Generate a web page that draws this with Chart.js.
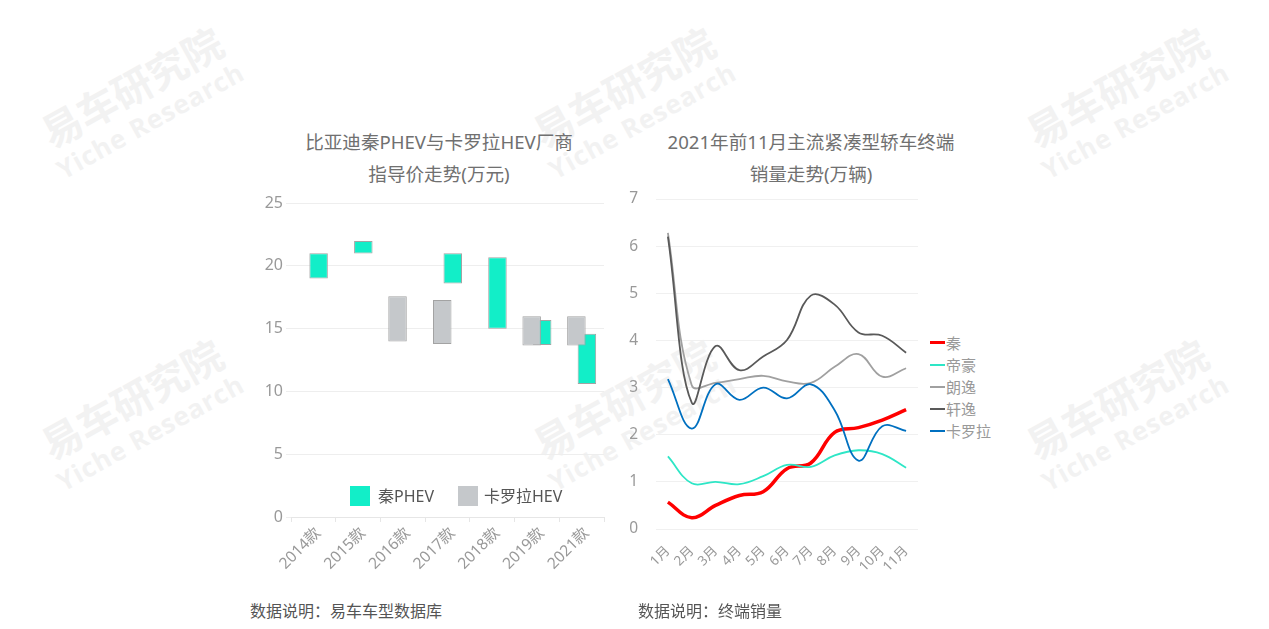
<!DOCTYPE html>
<html>
<head>
<meta charset="utf-8">
<script src="https://cdn.jsdelivr.net/npm/chart.js@4/dist/chart.umd.min.js"></script>
<style>
  html, body { margin: 0; padding: 0; background: #fff; }
  body { width: 1269px; height: 629px; position: relative; overflow: hidden;
         font-family: 'Noto Sans', 'Noto Sans CJK SC', sans-serif; }
  .wm { position: absolute; width: 300px; margin-left: -150px; margin-top: -45px; text-align: center;
        color: #f2f2f2; font-weight: bold; transform: rotate(-29deg); white-space: nowrap; }
  .wm .cn { font-size: 40px; line-height: 42px; font-family: 'Noto Sans CJK SC', sans-serif; }
  .wm .en { font-size: 26px; line-height: 36px; letter-spacing: 1px; font-family: 'Open Sans', 'Noto Sans', sans-serif; }
  .title { position: absolute; width: 420px; text-align: center; font-size: 18.6px; line-height: 32px; color: #707070; }
  .note { position: absolute; font-size: 16px; line-height: 20px; color: #555; }
  canvas { position: absolute; }
  .lg { position: absolute; font-size: 16px; line-height: 20px; color: #555; }
  .lg i { position: absolute; width: 20px; height: 20px; }
  .rl { position: absolute; left: 930px; font-size: 15px; line-height: 20px; color: #999; padding-left: 16px; }
  .rl i { position: absolute; left: 0; top: 9px; width: 15px; height: 2px; }
</style>
</head>
<body>
<div class="wm" style="left:140px;top:108px"><div class="cn">易车研究院</div><div class="en">Yiche Research</div></div>
<div class="wm" style="left:632px;top:108px"><div class="cn">易车研究院</div><div class="en">Yiche Research</div></div>
<div class="wm" style="left:1125px;top:108px"><div class="cn">易车研究院</div><div class="en">Yiche Research</div></div>
<div class="wm" style="left:140px;top:420px"><div class="cn">易车研究院</div><div class="en">Yiche Research</div></div>
<div class="wm" style="left:632px;top:420px"><div class="cn">易车研究院</div><div class="en">Yiche Research</div></div>
<div class="wm" style="left:1125px;top:420px"><div class="cn">易车研究院</div><div class="en">Yiche Research</div></div>

<div class="title" style="left:229px;top:126px">比亚迪秦PHEV与卡罗拉HEV厂商<br>指导价走势(万元)</div>
<div class="title" style="left:601px;top:126px">2021年前11月主流紧凑型轿车终端<br>销量走势(万辆)</div>

<canvas id="priceChart" width="390" height="410" style="left:230px;top:190px;width:390px;height:410px"></canvas>
<canvas id="salesChart" width="310" height="415" style="left:615px;top:185px;width:310px;height:415px"></canvas>

<div class="lg" style="left:350px;top:486px"><i style="left:0;top:0;background:#12eec8"></i><span style="position:absolute;left:28px;white-space:nowrap">秦PHEV</span></div>
<div class="lg" style="left:458px;top:486px"><i style="left:0;top:0;background:#c5c8cb"></i><span style="position:absolute;left:26px;white-space:nowrap">卡罗拉HEV</span></div>

<div class="rl" style="top:333px"><i style="background:#ff0000;height:3px;top:8px"></i>秦</div>
<div class="rl" style="top:355px"><i style="background:#2ee6c6"></i>帝豪</div>
<div class="rl" style="top:377px"><i style="background:#a0a0a0"></i>朗逸</div>
<div class="rl" style="top:399px"><i style="background:#595959"></i>轩逸</div>
<div class="rl" style="top:421px"><i style="background:#0070c0"></i>卡罗拉</div>

<div class="note" style="left:250px;top:601px">数据说明：易车车型数据库</div>
<div class="note" style="left:638px;top:601px">数据说明：终端销量</div>

<script>
// 左图：厂商指导价区间（万元）
const years = ['2014款', '2015款', '2016款', '2017款', '2018款', '2019款', '2021款'];
const qinLow = [18.99, 20.98, null, 18.59, 14.98, 13.69, 10.59];
const qinHigh = [20.99, 21.98, null, 20.99, 20.69, 15.69, 14.59];
const corollaLow = [null, null, 13.98, 13.78, null, 13.65, 13.65];
const corollaHigh = [null, null, 17.58, 17.28, null, 15.98, 15.98];
const priceTicks = [0, 5, 10, 15, 20, 25];

// 右图：终端销量（万辆）
const months = ['1月', '2月', '3月', '4月', '5月', '6月', '7月', '8月', '9月', '10月', '11月'];
const qinSales = [0.57, 0.24, 0.50, 0.71, 0.79, 1.28, 1.40, 2.05, 2.15, 2.31, 2.53];
const dihaoSales = [1.54, 0.97, 1.00, 0.95, 1.12, 1.36, 1.32, 1.56, 1.67, 1.59, 1.30];
const langyiSales = [6.28, 3.05, 3.10, 3.18, 3.25, 3.13, 3.10, 3.44, 3.71, 3.23, 3.41];
const xuanyiSales = [6.20, 2.68, 3.88, 3.37, 3.66, 4.01, 4.95, 4.76, 4.17, 4.10, 3.74];
const corollaSales = [3.18, 2.13, 3.07, 2.74, 3.00, 2.77, 3.07, 2.52, 1.45, 2.18, 2.08];
const salesTicks = [0, 1, 2, 3, 4, 5, 6, 7];

Chart.defaults.font.family = "'Noto Sans', 'Noto Sans CJK SC', sans-serif";
Chart.defaults.color = '#999';

const pairs = (lo, hi) => lo.map((v, i) => v === null ? null : [v, hi[i]]);

new Chart(document.getElementById('priceChart').getContext('2d'), {
  type: 'bar',
  data: {
    labels: years,
    datasets: [
      {
        label: '卡罗拉HEV',
        data: pairs(corollaLow, corollaHigh),
        backgroundColor: '#c5c8cb',
        borderColor: '#a3a3a3',
        borderWidth: 1,
        borderSkipped: false
      },
      {
        label: '秦PHEV',
        data: pairs(qinLow, qinHigh),
        backgroundColor: '#12eec8',
        borderColor: '#a3a3a3',
        borderWidth: 1,
        borderSkipped: false
      }
    ]
  },
  options: {
    responsive: false,
    animation: false,
    categoryPercentage: 0.47,
    barPercentage: 1.76,
    layout: { padding: { top: 13, right: 16, left: 0, bottom: 0 } },
    plugins: { legend: { display: false }, tooltip: { enabled: false } },
    scales: {
      x: {
        grid: { drawOnChartArea: false, tickLength: 5, color: '#e6e6e6' },
        border: { color: '#e6e6e6' },
        ticks: { minRotation: 45, maxRotation: 45, autoSkip: false, labelOffset: 5, padding: 2,
                 font: { size: 15.5 }, color: '#999' },
        afterFit: s => { s.height = 83; }
      },
      y: {
        min: 0, max: 25,
        afterBuildTicks: s => { s.ticks = priceTicks.map(v => ({ value: v })); },
        grid: { color: '#eeeeee', tickLength: 5 },
        border: { display: false },
        ticks: { padding: 3, font: { size: 16 }, color: '#999' },
        afterFit: s => { s.width = 61; }
      }
    }
  }
});

const line = (label, data, color, width) => ({
  label, data,
  borderColor: color,
  backgroundColor: color,
  borderWidth: width,
  pointRadius: 0,
  tension: 0.4,
  fill: false
});

new Chart(document.getElementById('salesChart').getContext('2d'), {
  type: 'line',
  data: {
    labels: months,
    datasets: [
      line('卡罗拉', corollaSales, '#0070c0', 1.8),
      line('轩逸', xuanyiSales, '#595959', 1.8),
      line('朗逸', langyiSales, '#a0a0a0', 1.8),
      line('帝豪', dihaoSales, '#2ee6c6', 1.8),
      line('秦', qinSales, '#ff0000', 3.5)
    ]
  },
  options: {
    responsive: false,
    animation: false,
    layout: { padding: { top: 14, right: 7, left: 0, bottom: 0 } },
    plugins: { legend: { display: false }, tooltip: { enabled: false } },
    scales: {
      x: {
        offset: true,
        grid: { display: false },
        border: { display: false },
        ticks: { minRotation: 45, maxRotation: 45, autoSkip: false, padding: 6,
                 font: { size: 13.5 }, color: '#999' },
        afterFit: s => { s.height = 71; }
      },
      y: {
        min: 0, max: 7,
        afterBuildTicks: s => { s.ticks = salesTicks.map(v => ({ value: v })); },
        grid: { color: '#f0f0f0', tickLength: 15, tickColor: 'rgba(0,0,0,0)' },
        border: { display: false },
        ticks: { padding: 3, font: { size: 15.5 }, color: '#999' },
        afterFit: s => { s.width = 41; }
      }
    }
  }
});
</script>
</body>
</html>
